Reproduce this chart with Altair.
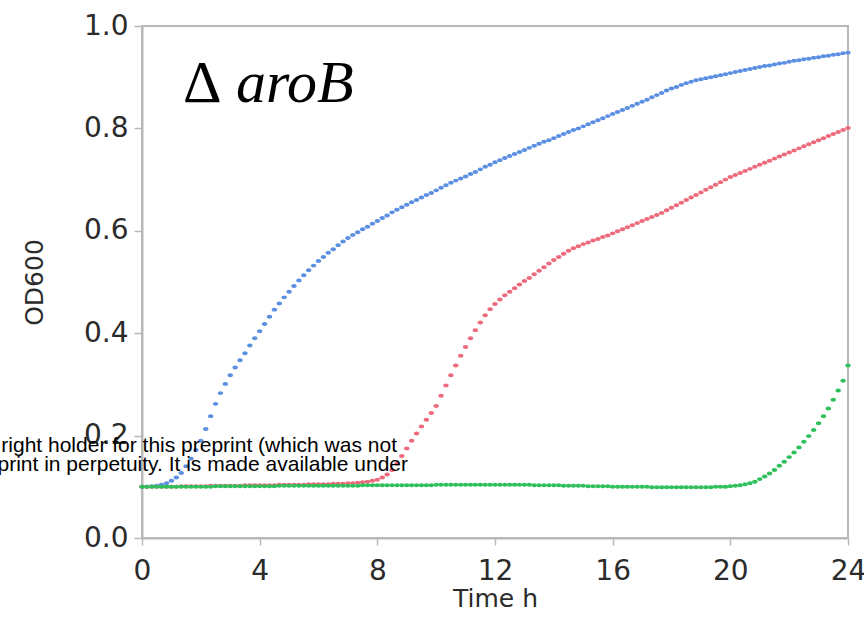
import altair as alt
import pandas as pd

# Sampling grid: one OD600 reading every 10 minutes over 24 h
minutes = list(range(0, 1441, 10))

blue_od = [
    0.100, 0.100, 0.101, 0.102, 0.104, 0.107,
    0.112, 0.118, 0.127, 0.140, 0.155, 0.172,
    0.190, 0.213, 0.238, 0.262, 0.283, 0.301,
    0.318, 0.333, 0.347, 0.361, 0.376, 0.390,
    0.404, 0.418, 0.432, 0.446, 0.458, 0.470,
    0.481, 0.492, 0.503, 0.513, 0.523, 0.532,
    0.541, 0.549, 0.557, 0.564, 0.572, 0.579,
    0.586, 0.592, 0.597, 0.603, 0.608, 0.614,
    0.619, 0.625, 0.630, 0.636, 0.641, 0.646,
    0.651, 0.656, 0.660, 0.665, 0.670, 0.674,
    0.679, 0.684, 0.689, 0.694, 0.698, 0.702,
    0.706, 0.711, 0.715, 0.720, 0.725, 0.729,
    0.734, 0.738, 0.742, 0.746, 0.750, 0.754,
    0.758, 0.762, 0.766, 0.770, 0.774, 0.777,
    0.781, 0.785, 0.789, 0.793, 0.797, 0.800,
    0.804, 0.808, 0.812, 0.816, 0.820, 0.824,
    0.828, 0.832, 0.836, 0.840, 0.844, 0.848,
    0.852, 0.856, 0.861, 0.865, 0.869, 0.874,
    0.878, 0.881, 0.885, 0.888, 0.891, 0.894,
    0.896, 0.898, 0.900, 0.902, 0.904, 0.906,
    0.908, 0.910, 0.912, 0.914, 0.916, 0.918,
    0.920, 0.922, 0.923, 0.925, 0.927, 0.928,
    0.930, 0.932, 0.933, 0.935, 0.936, 0.938,
    0.939, 0.941, 0.942, 0.944, 0.945, 0.947,
    0.948,
]

red_od = [
    0.100, 0.100, 0.100, 0.100, 0.100, 0.100,
    0.100, 0.100, 0.101, 0.101, 0.101, 0.101,
    0.101, 0.101, 0.102, 0.102, 0.102, 0.102,
    0.102, 0.102, 0.102, 0.103, 0.103, 0.103,
    0.103, 0.103, 0.103, 0.103, 0.104, 0.104,
    0.104, 0.104, 0.104, 0.104, 0.105, 0.105,
    0.105, 0.105, 0.105, 0.106, 0.106, 0.106,
    0.107, 0.107, 0.108, 0.109, 0.110, 0.112,
    0.114, 0.118, 0.124, 0.133, 0.145, 0.160,
    0.175, 0.190, 0.204, 0.218, 0.231, 0.244,
    0.258, 0.278, 0.298, 0.318, 0.337, 0.356,
    0.373, 0.390, 0.406, 0.421, 0.435, 0.447,
    0.457, 0.466, 0.474, 0.481, 0.488, 0.495,
    0.502, 0.508, 0.515, 0.522, 0.529, 0.536,
    0.543, 0.549, 0.555, 0.561, 0.566, 0.570,
    0.574, 0.577, 0.581, 0.584, 0.588, 0.591,
    0.595, 0.599, 0.603, 0.607, 0.611, 0.615,
    0.619, 0.623, 0.627, 0.631, 0.635, 0.640,
    0.645, 0.650, 0.655, 0.660, 0.665, 0.670,
    0.675, 0.680, 0.685, 0.690, 0.695, 0.700,
    0.705, 0.709, 0.713, 0.717, 0.721, 0.725,
    0.729, 0.733, 0.737, 0.741, 0.745, 0.749,
    0.753, 0.757, 0.761, 0.765, 0.769, 0.773,
    0.777, 0.781, 0.785, 0.789, 0.793, 0.797,
    0.801,
]

green_od = [
    0.100, 0.100, 0.100, 0.100, 0.100, 0.100,
    0.100, 0.100, 0.100, 0.100, 0.100, 0.100,
    0.100, 0.100, 0.100, 0.101, 0.101, 0.101,
    0.101, 0.101, 0.101, 0.101, 0.101, 0.101,
    0.101, 0.101, 0.101, 0.101, 0.102, 0.102,
    0.102, 0.102, 0.102, 0.102, 0.102, 0.102,
    0.102, 0.102, 0.102, 0.102, 0.102, 0.102,
    0.102, 0.102, 0.102, 0.103, 0.103, 0.103,
    0.103, 0.103, 0.103, 0.103, 0.103, 0.103,
    0.103, 0.103, 0.103, 0.103, 0.103, 0.103,
    0.104, 0.104, 0.104, 0.104, 0.104, 0.104,
    0.104, 0.104, 0.104, 0.104, 0.104, 0.104,
    0.104, 0.104, 0.104, 0.104, 0.104, 0.104,
    0.104, 0.104, 0.103, 0.103, 0.103, 0.103,
    0.103, 0.103, 0.102, 0.102, 0.102, 0.102,
    0.102, 0.101, 0.101, 0.101, 0.101, 0.101,
    0.100, 0.100, 0.100, 0.100, 0.100, 0.100,
    0.100, 0.100, 0.099, 0.099, 0.099, 0.099,
    0.099, 0.099, 0.099, 0.099, 0.099, 0.099,
    0.099, 0.099, 0.099, 0.100, 0.100, 0.100,
    0.101, 0.102, 0.103, 0.105, 0.107, 0.110,
    0.115, 0.120, 0.126, 0.133, 0.141, 0.149,
    0.158, 0.167, 0.177, 0.188, 0.199, 0.211,
    0.224, 0.238, 0.253, 0.270, 0.288, 0.307,
    0.337,
]

series_names = ["strain A", "strain B", "strain C"]
series_colors = ["#5b8fe2", "#ec6a7c", "#2fbf5c"]
x_ticks = [0, 4, 8, 12, 16, 20, 24]
y_ticks = [0.0, 0.2, 0.4, 0.6, 0.8, 1.0]

frames = []
for rank, (name, values) in enumerate(zip(series_names, [blue_od, red_od, green_od])):
    frames.append(pd.DataFrame({
        "time_h": [m / 60 for m in minutes],
        "od": values,
        "series": name,
        "draw": rank,
    }))
df = pd.concat(frames, ignore_index=True)

axis_font = "DejaVu Sans"
text_color = "#2b2b2b"
frame_color = "#b8b8b8"

# Slightly flattened dot so neighbouring readings merge where a curve is flat
dot_shape = "M -1 0 A 1 0.72 0 1 0 1 0 A 1 0.72 0 1 0 -1 0 Z"

points = alt.Chart(df).mark_point(
    shape=dot_shape, filled=True, size=30, opacity=1, strokeWidth=0,
).encode(
    x=alt.X(
        "time_h:Q",
        scale=alt.Scale(domain=[0, 24], nice=False, zero=False),
        axis=alt.Axis(
            values=x_ticks, title="Time h", grid=False,
            labelFont=axis_font, labelFontSize=28, labelColor=text_color,
            labelPadding=12, labelFlush=False, labelOverlap=False,
            tickColor=frame_color, tickSize=7, tickWidth=1.5,
            domainColor=frame_color, domainWidth=2,
            titleFont=axis_font, titleFontSize=25, titleFontWeight="normal",
            titleColor=text_color, titlePadding=1,
        ),
    ),
    y=alt.Y(
        "od:Q",
        scale=alt.Scale(domain=[0, 1], nice=False),
        axis=alt.Axis(
            values=y_ticks, format=".1f", title="OD600", grid=False,
            labelFont=axis_font, labelFontSize=28, labelColor=text_color,
            labelPadding=6, labelFlush=False, labelOverlap=False,
            tickColor=frame_color, tickSize=8, tickWidth=1.5,
            domainColor=frame_color, domainWidth=2,
            titleFont=axis_font, titleFontSize=25, titleFontWeight="normal",
            titleColor=text_color, titlePadding=36,
        ),
    ),
    color=alt.Color(
        "series:N",
        scale=alt.Scale(domain=series_names, range=series_colors),
        legend=None,
    ),
    order=alt.Order("draw:Q"),
)

# Panel label: upright Delta followed by the italic gene name
delta = alt.Chart(pd.DataFrame({"t": ["Δ"]})).mark_text(
    font="Liberation Serif", fontSize=60, align="left", baseline="alphabetic",
    color="#000000",
).encode(text="t:N", x=alt.value(41), y=alt.value(76))

gene = alt.Chart(pd.DataFrame({"t": ["aroB"]})).mark_text(
    font="Liberation Serif", fontSize=60, fontStyle="italic", align="left",
    baseline="alphabetic", color="#000000",
).encode(text="t:N", x=alt.value(94), y=alt.value(76))

# Preprint notice lines crossing the lower left of the panel
notice_1 = alt.Chart(pd.DataFrame({"t": ["right holder for this preprint (which was not"]})).mark_text(
    font="Liberation Sans", fontSize=21, align="right", baseline="alphabetic",
    color="#000000",
).encode(text="t:N", x=alt.value(255), y=alt.value(426))

notice_2 = alt.Chart(pd.DataFrame({"t": ["print in perpetuity. It is made available under"]})).mark_text(
    font="Liberation Sans", fontSize=21, align="right", baseline="alphabetic",
    color="#000000",
).encode(text="t:N", x=alt.value(266), y=alt.value(445))

chart = alt.layer(points, delta, gene, notice_1, notice_2).properties(
    width=706,
    height=512,
    padding={"left": 142, "top": 26, "right": 16, "bottom": 81},
    autosize=alt.AutoSizeParams(type="none"),
    background="white",
).configure_view(
    stroke=frame_color, strokeWidth=2,
)

chart.save("out.html", embed_options={"renderer": "svg", "actions": False})
